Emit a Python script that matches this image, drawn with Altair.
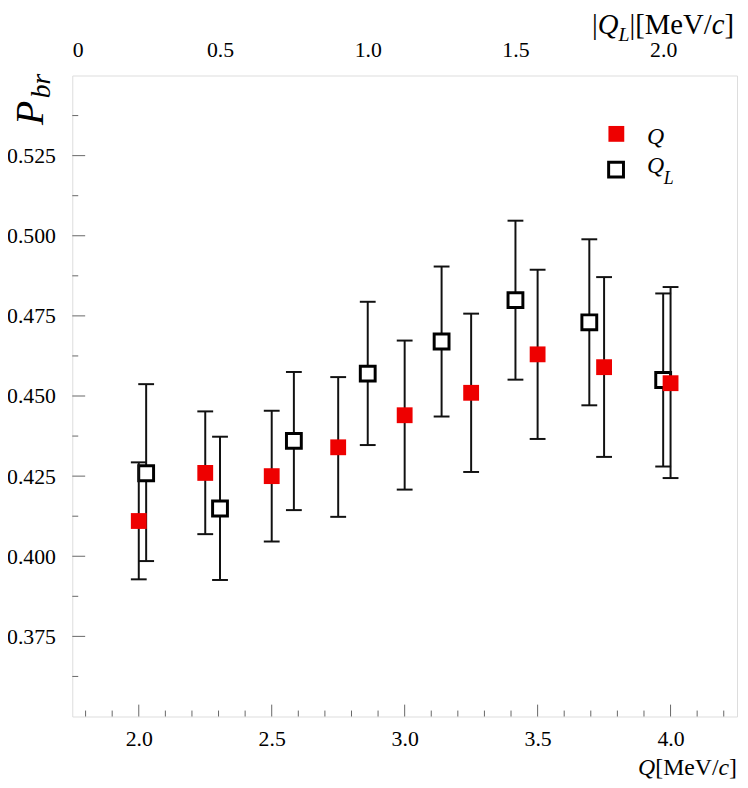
import altair as alt
import pandas as pd

# ---- data ----
q = [2.0, 2.25, 2.5, 2.75, 3.0, 3.25, 3.5, 3.75, 4.0]
p_q = [0.411, 0.426, 0.425, 0.434, 0.444, 0.451, 0.463, 0.459, 0.454]
p_q_hi = [0.4293, 0.4452, 0.4454, 0.4559, 0.4673, 0.4757, 0.4894, 0.4871, 0.4840]
p_q_lo = [0.3928, 0.4069, 0.4046, 0.4123, 0.4208, 0.4263, 0.4366, 0.4310, 0.4244]

ql = [0.25, 0.5, 0.75, 1.0, 1.25, 1.5, 1.75, 2.0]
p_ql = [0.4259, 0.4149, 0.4360, 0.4570, 0.4670, 0.4799, 0.4730, 0.4550]
p_ql_hi = [0.4537, 0.4373, 0.4575, 0.4794, 0.4904, 0.5047, 0.4989, 0.4820]
p_ql_lo = [0.3985, 0.3926, 0.4144, 0.4347, 0.4436, 0.4551, 0.4471, 0.4280]

q_major = [2.0, 2.5, 3.0, 3.5, 4.0]
q_minor = [1.8, 1.9, 2.1, 2.2, 2.3, 2.4, 2.6, 2.7, 2.8, 2.9, 3.1, 3.2, 3.3, 3.4,
           3.6, 3.7, 3.8, 3.9, 4.1, 4.2]
ql_major = [0.0, 0.5, 1.0, 1.5, 2.0]
p_major = [0.375, 0.400, 0.425, 0.450, 0.475, 0.500, 0.525]
p_minor = [0.3625, 0.3875, 0.4125, 0.4375, 0.4625, 0.4875, 0.5125, 0.5375]

FONT = "Liberation Serif"
W, H = 672, 648

xq_scale = alt.Scale(domain=[1.75, 4.25], nice=False, zero=False)
xl_scale = alt.Scale(domain=[0.0, 2.25], nice=False, zero=False)
y_scale = alt.Scale(domain=[0.35, 0.55], nice=False, zero=False)

y_axis = alt.Axis(values=p_major, format=".3f", ticks=False, tickSize=0, domain=False,
                  grid=False, labelPadding=17, title=None, labelFont=FONT,
                  labelFontSize=22, labelColor="black")
xq_axis = alt.Axis(orient="bottom", values=q_major, format=".1f", ticks=False, tickSize=0,
                   domain=False, grid=False, labelPadding=12, title=None, labelFont=FONT,
                   labelFontSize=22, labelColor="black")
xl_axis = alt.Axis(orient="top", values=ql_major,
                   labelExpr="datum.value == 0 ? '0' : format(datum.value, '.1f')",
                   ticks=False, tickSize=0, domain=False, grid=False, labelPadding=14,
                   title=None, labelFont=FONT, labelFontSize=22, labelColor="black")

df_q = pd.DataFrame({"q": q, "p": p_q, "hi": p_q_hi, "lo": p_q_lo})
df_ql = pd.DataFrame({"ql": ql, "p": p_ql, "hi": p_ql_hi, "lo": p_ql_lo})
caps_q = pd.DataFrame({"q": q + q, "p": p_q_hi + p_q_lo})
caps_ql = pd.DataFrame({"ql": ql + ql, "p": p_ql_hi + p_ql_lo})

# Q_L series (top axis scale)
ql_err = alt.Chart(df_ql).mark_rule(color="#111", strokeWidth=2).encode(
    x=alt.X("ql:Q", scale=xl_scale, axis=xl_axis),
    y=alt.Y("lo:Q", scale=y_scale, axis=y_axis),
    y2="hi:Q",
)
ql_caps = alt.Chart(caps_ql).mark_tick(orient="horizontal", size=16, thickness=2,
                                       color="#111", opacity=1).encode(
    x=alt.X("ql:Q", scale=xl_scale, axis=None),
    y=alt.Y("p:Q", scale=y_scale, axis=y_axis),
)
ql_pts = alt.Chart(df_ql).mark_square(size=225, filled=True, fill="white", stroke="black",
                                      strokeWidth=3, opacity=1).encode(
    x=alt.X("ql:Q", scale=xl_scale, axis=None),
    y=alt.Y("p:Q", scale=y_scale, axis=y_axis),
)

# Q series (bottom axis scale)
q_err = alt.Chart(df_q).mark_rule(color="#111", strokeWidth=2).encode(
    x=alt.X("q:Q", scale=xq_scale, axis=xq_axis),
    y=alt.Y("lo:Q", scale=y_scale, axis=y_axis),
    y2="hi:Q",
)
q_caps = alt.Chart(caps_q).mark_tick(orient="horizontal", size=16, thickness=2,
                                     color="#111", opacity=1).encode(
    x=alt.X("q:Q", scale=xq_scale, axis=None),
    y=alt.Y("p:Q", scale=y_scale, axis=y_axis),
)
q_pts = alt.Chart(df_q).mark_square(size=256, color="#ee0000", opacity=1).encode(
    x=alt.X("q:Q", scale=xq_scale, axis=None),
    y=alt.Y("p:Q", scale=y_scale, axis=y_axis),
)

# inward ticks
xt_major = alt.Chart(pd.DataFrame({"q": q_major})).mark_rule(color="#666", strokeWidth=1).encode(
    x=alt.X("q:Q", scale=xq_scale, axis=None), y=alt.value(H), y2=alt.value(H - 12))
xt_minor = alt.Chart(pd.DataFrame({"q": q_minor})).mark_rule(color="#666", strokeWidth=1).encode(
    x=alt.X("q:Q", scale=xq_scale, axis=None), y=alt.value(H), y2=alt.value(H - 6))
yt_major = alt.Chart(pd.DataFrame({"p": p_major})).mark_rule(color="#666", strokeWidth=1).encode(
    y=alt.Y("p:Q", scale=y_scale, axis=y_axis), x=alt.value(0), x2=alt.value(13))
yt_minor = alt.Chart(pd.DataFrame({"p": p_minor})).mark_rule(color="#666", strokeWidth=1).encode(
    y=alt.Y("p:Q", scale=y_scale, axis=y_axis), x=alt.value(0), x2=alt.value(6))


def txt(s, x, y, size, italic=False, angle=0, align="left"):
    kw = dict(font=FONT, fontSize=size, align=align, baseline="alphabetic", color="black")
    if italic:
        kw["fontStyle"] = "italic"
    if angle:
        kw["angle"] = angle
    return alt.Chart(pd.DataFrame({"t": [s]})).mark_text(**kw).encode(
        x=alt.value(x), y=alt.value(y), text="t:N")


# legend
leg_q = alt.Chart(pd.DataFrame({"s": ["Q"]})).mark_square(size=256, color="#ee0000", opacity=1).encode(
    x=alt.value(550), y=alt.value(59))
leg_ql = alt.Chart(pd.DataFrame({"s": ["QL"]})).mark_square(
    size=225, filled=True, fill="white", stroke="black", strokeWidth=3, opacity=1).encode(
    x=alt.value(549.7), y=alt.value(95.2))

texts = [
    # legend labels
    txt("Q", 581, 69, 24, italic=True),
    txt("Q", 581, 99, 24, italic=True),
    txt("L", 598, 110, 18, italic=True),
    # bottom title  Q[MeV/c]
    txt("Q", 572, 707, 24, italic=True),
    txt("[MeV/", 589.3, 707, 24),
    txt("c", 653.3, 707, 24, italic=True),
    txt("]", 664, 707, 24),
    # top title |Q_L|[MeV/c]
    txt("|", 525.5, -42, 29),
    txt("Q", 531.3, -42, 29, italic=True),
    txt("L", 552.2, -35, 20, italic=True),
    txt("|", 563.3, -42, 29),
    txt("[MeV/", 569.1, -42, 29),
    txt("c", 646.4, -42, 29, italic=True),
    txt("]", 659.3, -42, 29),
    # y title P_br (rotated)
    txt("P", -30, 50, 40, italic=True, angle=270),
    txt("br", -23, 23, 28, italic=True, angle=270),
]

chart = alt.layer(
    xt_major, xt_minor, yt_major, yt_minor,
    ql_err, ql_caps, ql_pts,
    q_err, q_caps, q_pts,
    leg_q, leg_ql, *texts,
).resolve_scale(x="independent").properties(
    width=W, height=H,
    autosize=alt.AutoSizeParams(type="none"),
    padding={"left": 65, "top": 64, "right": 3, "bottom": 66},
).configure_view(stroke="black", strokeWidth=2).configure_axis(
    labelFont=FONT, labelFontSize=22, labelColor="black"
).configure(background="white")

chart.save("out.html", embed_options={"renderer": "svg", "actions": False})
